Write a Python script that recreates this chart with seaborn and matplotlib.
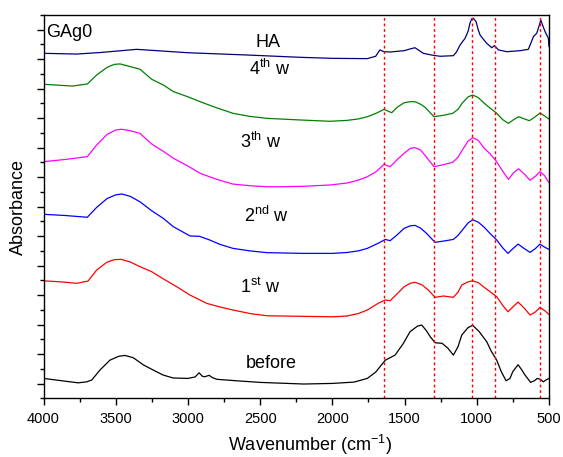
import numpy as np
import pandas as pd
import matplotlib
matplotlib.use('Agg')
import matplotlib.pyplot as plt
from matplotlib.ticker import MultipleLocator
import seaborn as sns

# FTIR spectra (wavenumber, stacked absorbance, a.u.)
wn_before = [4000, 3880, 3760, 3700, 3666, 3609, 3540, 3480, 3436, 3378, 3309, 3241, 3172, 3103, 3000, 2950, 2923, 2900, 2885, 2853, 2830, 2800, 2650, 2500, 2200, 2000, 1850, 1758, 1700, 1633, 1566, 1510, 1462, 1410, 1381, 1350, 1320, 1289, 1240, 1200, 1162, 1130, 1104, 1060, 1028, 983, 931, 900, 862, 830, 797, 770, 751, 714, 690, 666, 627, 600, 581, 560, 539, 520, 500]
ab_before = [0.35, 0.2, 0.05, 0.12, 0.24, 0.92, 1.59, 1.85, 1.91, 1.75, 1.27, 0.92, 0.58, 0.38, 0.35, 0.45, 0.73, 0.5, 0.46, 0.56, 0.4, 0.29, 0.18, 0.08, -0.03, 0.01, 0.10, 0.35, 0.78, 1.59, 1.93, 2.7, 3.52, 3.9, 3.97, 3.6, 3.15, 2.77, 2.73, 2.4, 1.93, 2.5, 3.29, 3.8, 3.95, 3.52, 2.84, 2.2, 1.59, 0.8, 0.19, 0.35, 0.80, 1.28, 0.95, 0.58, 0.08, 0.2, 0.35, 0.29, 0.12, 0.25, 0.35]

wn_1st = [4000, 3880, 3770, 3720, 3692, 3632, 3560, 3510, 3465, 3400, 3332, 3251, 3170, 3078, 2985, 2870, 2780, 2688, 2570, 2453, 2200, 2000, 1900, 1820, 1758, 1680, 1633, 1600, 1550, 1503, 1460, 1428, 1380, 1335, 1289, 1231, 1162, 1130, 1104, 1060, 1028, 990, 954, 910, 862, 820, 784, 750, 714, 670, 631, 595, 562, 530, 500]
ab_1st = [6.97, 6.9, 6.80, 6.9, 6.95, 7.70, 8.24, 8.4, 8.43, 8.25, 7.93, 7.59, 7.1, 6.57, 6.00, 5.44, 5.2, 4.99, 4.75, 4.60, 4.56, 4.53, 4.58, 4.75, 4.99, 5.46, 5.67, 5.62, 6.1, 6.57, 6.8, 6.87, 6.7, 6.34, 5.85, 5.94, 5.85, 6.2, 6.68, 6.9, 6.97, 6.85, 6.57, 6.25, 5.89, 5.3, 4.87, 5.2, 5.53, 5.1, 4.65, 4.85, 5.17, 4.95, 4.69]

wn_2nd = [4000, 3850, 3697, 3632, 3560, 3500, 3458, 3400, 3332, 3251, 3170, 3101, 2985, 2920, 2850, 2780, 2688, 2570, 2453, 2200, 2000, 1900, 1820, 1758, 1680, 1633, 1600, 1550, 1503, 1460, 1428, 1390, 1350, 1289, 1220, 1162, 1130, 1100, 1060, 1028, 990, 950, 910, 862, 820, 784, 750, 714, 670, 631, 595, 562, 530, 500]
ab_2nd = [11.48, 11.4, 11.28, 11.95, 12.55, 12.8, 12.86, 12.7, 12.33, 11.72, 11.2, 10.64, 10.01, 9.99, 9.74, 9.45, 9.17, 9.0, 8.88, 8.83, 8.83, 8.89, 9.0, 9.17, 9.53, 9.78, 9.69, 10.1, 10.53, 10.7, 10.73, 10.55, 10.21, 9.58, 9.68, 9.78, 10.05, 10.41, 10.9, 11.11, 10.95, 10.62, 10.2, 9.74, 9.2, 8.83, 9.15, 9.46, 9.15, 8.90, 9.15, 9.46, 9.25, 9.10]

wn_3th = [4000, 3850, 3697, 3632, 3560, 3500, 3458, 3400, 3332, 3251, 3170, 3100, 3000, 2915, 2800, 2688, 2570, 2453, 2362, 2200, 2016, 1900, 1820, 1758, 1700, 1642, 1600, 1550, 1503, 1460, 1428, 1390, 1360, 1296, 1230, 1166, 1130, 1100, 1060, 1028, 990, 950, 910, 866, 820, 781, 745, 710, 670, 631, 595, 562, 530, 500]
ab_3th = [15.05, 15.2, 15.39, 16.18, 16.9, 17.2, 17.25, 17.15, 16.97, 16.25, 15.75, 15.28, 14.75, 14.26, 13.85, 13.53, 13.42, 13.35, 13.35, 13.38, 13.47, 13.6, 13.8, 14.03, 14.35, 14.87, 14.71, 15.2, 15.62, 15.95, 16.00, 15.85, 15.50, 14.71, 14.85, 15.01, 15.35, 15.84, 16.45, 16.68, 16.5, 15.98, 15.6, 15.10, 14.4, 13.85, 14.3, 14.57, 14.2, 13.79, 14.05, 14.37, 14.1, 13.62]

wn_4th = [4000, 3800, 3697, 3632, 3560, 3510, 3470, 3400, 3332, 3251, 3170, 3100, 3000, 2916, 2800, 2688, 2570, 2453, 2224, 2016, 1900, 1820, 1758, 1700, 1642, 1589, 1550, 1503, 1460, 1428, 1390, 1360, 1296, 1230, 1166, 1130, 1100, 1060, 1028, 990, 950, 910, 866, 820, 781, 745, 710, 670, 636, 595, 562, 530, 500]
ab_4th = [20.30, 20.18, 20.32, 20.93, 21.45, 21.65, 21.68, 21.5, 21.32, 20.64, 20.25, 19.80, 19.45, 19.12, 18.7, 18.33, 18.12, 17.99, 17.88, 17.79, 17.85, 17.95, 18.10, 18.32, 18.60, 18.37, 18.75, 19.05, 19.12, 19.12, 18.95, 18.76, 18.10, 18.2, 18.33, 18.6, 19.03, 19.45, 19.57, 19.4, 19.03, 18.7, 18.37, 17.9, 17.65, 17.9, 18.10, 17.95, 17.83, 18.1, 18.35, 18.15, 17.94]

wn_ha = [4000, 3770, 3600, 3355, 3000, 2600, 2224, 2000, 1758, 1700, 1671, 1642, 1600, 1503, 1460, 1428, 1400, 1370, 1310, 1254, 1162, 1140, 1116, 1081, 1060, 1047, 1035, 1024, 1005, 990, 977, 950, 931, 896, 878, 850, 792, 700, 643, 625, 608, 585, 570, 557, 540, 527, 504, 500]
ab_ha = [22.40, 22.35, 22.46, 22.67, 22.44, 22.29, 22.13, 22.06, 22.04, 22.2, 22.63, 22.51, 22.49, 22.58, 22.7, 22.78, 22.6, 22.40, 22.28, 22.20, 22.24, 22.5, 22.96, 23.42, 23.9, 24.44, 24.75, 24.78, 24.55, 24.0, 23.64, 23.3, 23.08, 22.78, 22.92, 22.63, 22.51, 22.58, 22.67, 23.1, 23.53, 23.76, 24.2, 24.66, 24.2, 23.87, 23.42, 22.85]

series = ['before', '1st', '2nd', '3th', '4th', 'HA']
colors = ['black', '#FF0000', '#0000FF', '#FF00FF', '#008000', '#000080']
marker_lines = [1642, 1296, 1035, 873, 564]

labels = ['before', r'1$^{st}$ w', r'2$^{nd}$ w', r'3$^{th}$ w', r'4$^{th}$ w', 'HA']
label_x = [2420, 2497, 2455, 2494, 2432, 2446]
label_y = [1.03, 6.12, 10.98, 15.96, 20.93, 22.81]

frames = []
for name, wn, ab in [('before', wn_before, ab_before), ('1st', wn_1st, ab_1st),
                     ('2nd', wn_2nd, ab_2nd), ('3th', wn_3th, ab_3th),
                     ('4th', wn_4th, ab_4th), ('HA', wn_ha, ab_ha)]:
    frames.append(pd.DataFrame({'wn': wn, 'ab': ab, 'sample': name}))
df = pd.concat(frames, ignore_index=True)

sns.set_style('ticks')
plt.rcParams['font.family'] = ['Liberation Sans', 'DejaVu Sans']
plt.rcParams['mathtext.default'] = 'regular'
plt.rcParams['text.color'] = 'black'
plt.rcParams['axes.labelcolor'] = 'black'
plt.rcParams['xtick.color'] = 'black'
plt.rcParams['ytick.color'] = 'black'
plt.rcParams['axes.edgecolor'] = 'black'

fig = plt.figure(figsize=(5.63, 4.57), dpi=100)
ax = fig.add_axes([0.0773, 0.1284, 0.8978, 0.8388])

sns.lineplot(data=df, x='wn', y='ab', hue='sample', palette=dict(zip(series, colors)),
             estimator=None, sort=False, lw=0.9, legend=False, ax=ax)

for xv in marker_lines:
    ax.axvline(xv, color='#FF0000', lw=1.0, ls=(0, (2, 2)))

for t, xv, yv in zip(labels, label_x, label_y):
    ax.text(xv, yv, t, fontsize=13, ha='center', va='baseline')
ax.text(0.006, 0.955, 'GAg0', transform=ax.transAxes, fontsize=13, ha='left', va='center')

ax.set_xlim(4000, 500)
ax.set_ylim(-1, 25)
ax.xaxis.set_major_locator(MultipleLocator(500))
ax.xaxis.set_minor_locator(MultipleLocator(250))
ax.yaxis.set_major_locator(MultipleLocator(2))
ax.yaxis.set_minor_locator(MultipleLocator(1))
ax.set_yticklabels([])
ax.tick_params(which='major', direction='out', length=5, width=1, labelsize=10.5, pad=5)
ax.tick_params(which='minor', direction='out', length=3, width=1)
for s in ax.spines.values():
    s.set_visible(True)
    s.set_linewidth(1.0)

ax.set_xlabel(r'Wavenumber (cm$^{-1}$)', fontsize=13)
ax.xaxis.set_label_coords(0.527, -0.09)
ax.set_ylabel('Absorbance', fontsize=13, labelpad=2)

fig.savefig('out.png', dpi=100)
